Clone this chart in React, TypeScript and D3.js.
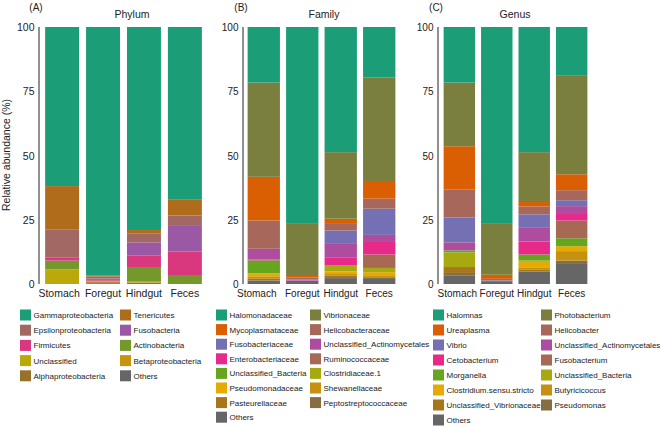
import React from 'react';
import * as d3 from 'd3';

// sites along the x axis
const sites = ['Stomach', 'Foregut', 'Hindgut', 'Feces'];

// (A) phylum level, legend order (filled by row)
const phylumTaxa = [
	'Gammaproteobacteria', 'Tenericutes', 'Epsilonproteobacteria', 'Fusobacteria',
	'Firmicutes', 'Actinobacteria', 'Unclassified', 'Betaproteobacteria',
	'Alphaproteobacteria', 'Others'
];
const phylumStomach = [61.9, 16.8, 11.1, 0, 1.1, 3.4, 5.7, 0, 0, 0];
const phylumForegut = [96.6, 0.5, 0.8, 0.5, 0.3, 0.3, 0.2, 0.1, 0.4, 0.3];
const phylumHindgut = [79.0, 1.3, 3.5, 5.2, 4.4, 5.7, 0.2, 0.2, 0.5, 0];
const phylumFeces = [67.0, 6.3, 4.1, 10.0, 9.1, 3.5, 0, 0, 0, 0];

// (B) family level
const familyTaxa = [
	'Halomonadaceae', 'Vibrionaceae', 'Mycoplasmataceae', 'Helicobacteraceae',
	'Fusobacteriaceae', 'Unclassified_Actinomycetales', 'Enterobacteriaceae', 'Ruminococcaceae',
	'Unclassified_Bacteria', 'Clostridiaceae.1', 'Pseudomonadaceae', 'Shewanellaceae',
	'Pasteurellaceae', 'Peptostreptococcaceae', 'Others'
];
const familyStomach = [21.6, 36.7, 17.0, 11.0, 0, 4.2, 0.3, 0, 5.0, 0, 1.2, 1.0, 0.5, 0.2, 1.3];
const familyForegut = [76.6, 19.9, 1.0, 0.8, 0.2, 0.2, 0.1, 0, 0, 0, 0, 0, 0, 0, 1.2];
const familyHindgut = [48.7, 25.9, 1.7, 2.9, 5.2, 5.4, 2.8, 0, 0, 2.5, 1.0, 0.7, 0.9, 0, 2.3];
const familyFeces = [19.7, 40.6, 6.5, 3.9, 10.2, 2.4, 5.2, 5.25, 0, 1.65, 1.5, 0.8, 0, 0, 2.3];

// (C) genus level
const genusTaxa = [
	'Halomnas', 'Photobacterium', 'Ureaplasma', 'Helicobacter',
	'Vibrio', 'Unclassified_Actinomycetales', 'Cetobacterium', 'Fusobacterium',
	'Morganella', 'Unclassified_Bacteria', 'Clostridium.sensu.stricto', 'Butyricicoccus',
	'Unclassified_Vibrionaceae', 'Pseudomonas', 'Others'
];
const genusStomach = [21.6, 24.8, 16.9, 10.8, 9.7, 3.1, 0, 0, 0.8, 5.7, 0, 0, 2.3, 1.1, 3.2];
const genusForegut = [76.6, 19.8, 1.6, 0.5, 0.2, 0, 0, 0, 0, 0, 0, 0, 0, 0.2, 1.1];
const genusHindgut = [48.7, 19.4, 1.7, 3.1, 5.0, 5.6, 5.0, 0, 2.4, 0, 2.6, 0.8, 0.8, 0, 4.9];
const genusFeces = [19.0, 38.3, 6.2, 3.9, 2.3, 2.7, 2.9, 6.9, 3.1, 0, 1.9, 3.7, 0, 1.3, 7.8];

const FONT = '"Liberation Sans", Arial, sans-serif';

// like colorRampPalette(brewer.pal(8, "Dark2"))(n)
const ramp = (n: number) => d3.quantize(d3.piecewise(d3.interpolateRgb, d3.schemeDark2 as string[]), n);

const toRows = (taxa: string[], cols: number[][]) =>
	sites.map((s, i) => {
		const row: any = { site: s };
		taxa.forEach((t, j) => (row[t] = cols[i][j]));
		return row;
	});

const panels = [
	{ tag: '(A)', tagX: 36, title: 'Phylum', titleX: 132, taxa: phylumTaxa,
		rows: toRows(phylumTaxa, [phylumStomach, phylumForegut, phylumHindgut, phylumFeces]),
		x0: 39, x1: 208, inner: 0.17, outer: 0.15, legendX: [20, 120], rowH: 15.2, labelSize: 10.5, firstDx: -3 },
	{ tag: '(B)', tagX: 241, title: 'Family', titleX: 324, taxa: familyTaxa,
		rows: toRows(familyTaxa, [familyStomach, familyForegut, familyHindgut, familyFeces]),
		x0: 243, x1: 400, inner: 0.16, outer: 0.12, legendX: [216, 310], rowH: 14.6, labelSize: 10, firstDx: -7 },
	{ tag: '(C)', tagX: 436, title: 'Genus', titleX: 515, taxa: genusTaxa,
		rows: toRows(genusTaxa, [genusStomach, genusForegut, genusHindgut, genusFeces]),
		x0: 438, x1: 593, inner: 0.16, outer: 0.15, legendX: [433, 541], rowH: 15, labelSize: 10, firstDx: -2 }
];

const y = d3.scaleLinear().domain([0, 100]).range([284, 27]);
const ticks = [0, 25, 50, 75, 100];

const Panel = ({ p }: { p: any }) => {
	const x = d3.scaleBand().domain(sites).range([p.x0, p.x1]).paddingInner(p.inner).paddingOuter(p.outer);
	const colors = ramp(p.taxa.length);
	const color = d3.scaleOrdinal<string, string>().domain(p.taxa).range(colors);
	// first taxon sits on top, so stack the keys bottom-up
	const series = d3.stack().keys(p.taxa.slice().reverse())(p.rows);

	return (
		<g>
			<text x={p.tagX} y={11} fontSize={10} textAnchor="middle" fill="#222">{p.tag}</text>
			<text x={p.titleX} y={18} fontSize={10.5} textAnchor="middle" fill="#222">{p.title}</text>
			<line x1={p.x0} x2={p.x0} y1={y(100)} y2={y(0)} stroke="#222" strokeWidth={1} />
			{ticks.map((t) => (
				<text key={t} x={p.x0 - 4.5} y={y(t) + 4} fontSize={p.labelSize} textAnchor="end" fill="#222">{t}</text>
			))}
			{series.map((s: any) =>
				s.map((d: any, i: number) => (
					<rect
						key={s.key + i}
						x={x(d.data.site)}
						width={x.bandwidth()}
						y={y(d[1])}
						height={Math.max(0, y(d[0]) - y(d[1]))}
						fill={color(s.key)}
					/>
				))
			)}
			{sites.map((s, i) => (
				<text key={s} x={(x(s) as number) + x.bandwidth() / 2 + (i === 0 ? p.firstDx : 0)} y={297}
					fontSize={p.labelSize} textAnchor="middle" fill="#222">{s}</text>
			))}
			{p.taxa.map((t: string, i: number) => {
				const lx = p.legendX[i % 2];
				const ly = 315 + Math.floor(i / 2) * p.rowH;
				return (
					<g key={t}>
						<rect x={lx} y={ly - 5.5} width={11} height={11} fill={color(t)} />
						<text x={lx + 13.5} y={ly + 3} fontSize={8} fill="#222">{t}</text>
					</g>
				);
			})}
		</g>
	);
};

const App = () => (
	<svg width={660} height={427} style={{ position: 'absolute', left: 0, top: 0, fontFamily: FONT }}>
		<rect width={660} height={427} fill="#fff" />
		<text transform="translate(10,155) rotate(-90)" fontSize={10.5} textAnchor="middle" fill="#222">Relative abundance (%)</text>
		{panels.map((p) => <Panel key={p.tag} p={p} />)}
	</svg>
);

export default App;
